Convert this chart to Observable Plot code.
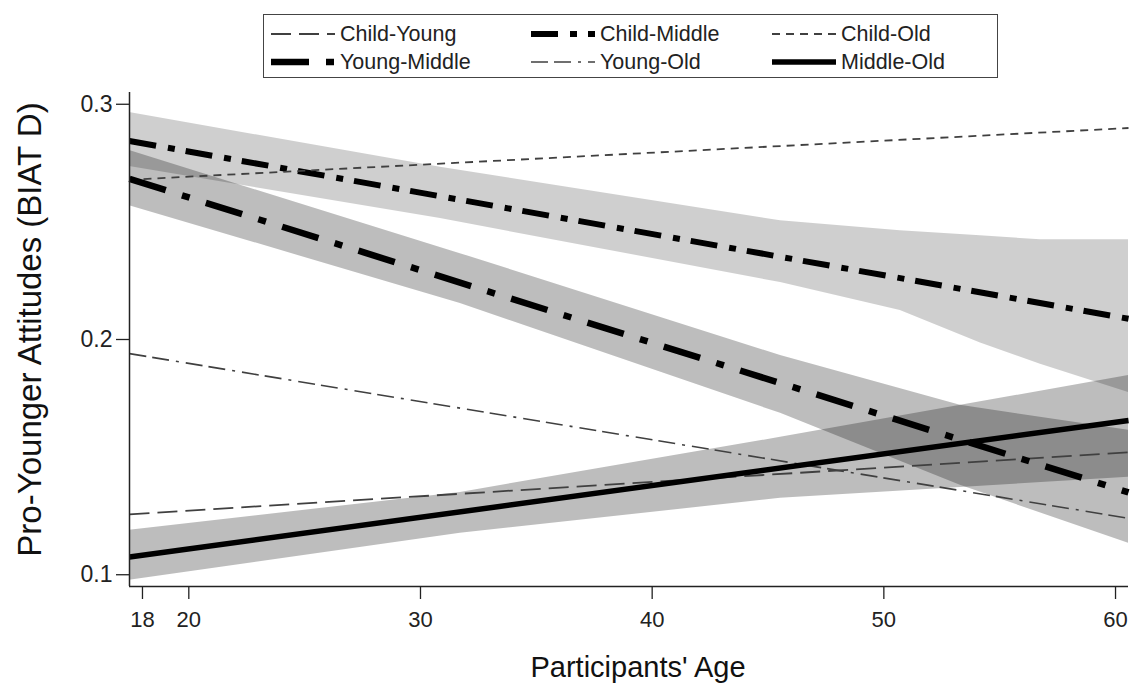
<!DOCTYPE html>
<html><head><meta charset="utf-8">
<script src="https://cdn.jsdelivr.net/npm/d3@7"></script>
<script src="https://cdn.jsdelivr.net/npm/@observablehq/plot@0.6"></script>
<style>
body{margin:0;background:#fff;font-family:"Liberation Sans",Arial,sans-serif;}
#wrap{position:relative;width:1133px;height:687px;overflow:hidden;}
#chart{position:absolute;left:0;top:0;}
#legend{position:absolute;left:263px;top:14px;width:735px;height:64px;border:1.5px solid #444;box-sizing:border-box;background:#fff;z-index:2;}
.item{position:absolute;display:flex;align-items:center;font-size:21.5px;color:#222;white-space:nowrap;height:26px;}
.item svg{margin-right:5px;}
</style></head><body>
<div id="wrap"><div id="chart"></div><div id="legend"></div></div>
<script>
// ---- data ----
const series = ["Child-Young", "Child-Middle", "Child-Old", "Young-Middle", "Young-Old", "Middle-Old"];
const ageRange = [17.44, 60.56];
const startValues = [0.1257, 0.2844, 0.2679, 0.2683, 0.1940, 0.1075];
const endValues   = [0.1520, 0.2088, 0.2899, 0.1350, 0.1240, 0.1656];

const cmBandAges = [17.44, 30.86, 45.54, 50.71, 54.17, 56.76, 60.56];
const cmBandLow  = [0.2735, 0.2514, 0.2242, 0.2123, 0.1985, 0.1895, 0.1775];
const cmBandHigh = [0.2965, 0.2732, 0.2505, 0.2462, 0.2441, 0.2424, 0.2424];

const ymBandAges = [17.44, 31.72, 45.54, 53.3, 60.56];
const ymBandLow  = [0.2569, 0.2153, 0.1686, 0.1380, 0.1134];
const ymBandHigh = [0.2803, 0.2365, 0.1932, 0.1720, 0.1614];

const moBandAges = [17.44, 31.72, 45.54, 60.56];
const moBandLow  = [0.0977, 0.1176, 0.1325, 0.1414];
const moBandHigh = [0.1189, 0.1350, 0.1584, 0.1847];

const yDomain = [0.095, 0.305];
const xTicks = [18, 20, 30, 40, 50, 60];
const yTicks = [0.1, 0.2, 0.3];
const xTitle = "Participants' Age";
const yTitle = "Pro-Younger Attitudes (BIAT D)";

// ---- styles ----
const styles = {
  "Child-Young":  {stroke: "#404040", width: 1.8, dash: "20,8"},
  "Child-Middle": {stroke: "#000", width: 6, dash: "27,12,7,11"},
  "Child-Old":    {stroke: "#404040", width: 1.8, dash: "8,6"},
  "Young-Middle": {stroke: "#000", width: 6.5, dash: "38,17,8,17"},
  "Young-Old":    {stroke: "#404040", width: 1.6, dash: "17,6,17,7,3,7"},
  "Middle-Old":   {stroke: "#000", width: 5.5, dash: null}
};

const lineData = series.flatMap((s, i) => [
  {series: s, age: ageRange[0], value: startValues[i]},
  {series: s, age: ageRange[1], value: endValues[i]}
]);
const band = (ages, lo, hi) => ages.map((a, i) => ({age: a, lo: lo[i], hi: hi[i]}));

const lineMarks = series.map(s => Plot.line(lineData.filter(d => d.series === s), {
  x: "age", y: "value", stroke: styles[s].stroke, strokeWidth: styles[s].width,
  strokeDasharray: styles[s].dash, strokeLinecap: "butt"
}));

const chart = Plot.plot({
  width: 1133, height: 687,
  marginLeft: 129, marginRight: 5, marginTop: 92, marginBottom: 101,
  x: {domain: ageRange},
  y: {domain: yDomain},
  style: {fontFamily: "'Liberation Sans', Arial, sans-serif", fontSize: "20px", color: "#222", background: "white"},
  marks: [
    Plot.areaY(band(cmBandAges, cmBandLow, cmBandHigh), {x: "age", y1: "lo", y2: "hi", fill: "#000", fillOpacity: 0.19}),
    Plot.areaY(band(ymBandAges, ymBandLow, ymBandHigh), {x: "age", y1: "lo", y2: "hi", fill: "#000", fillOpacity: 0.26}),
    Plot.areaY(band(moBandAges, moBandLow, moBandHigh), {x: "age", y1: "lo", y2: "hi", fill: "#000", fillOpacity: 0.26}),
    ...lineMarks,
    Plot.ruleX([ageRange[0]], {stroke: "#222", strokeWidth: 1.5}),
    Plot.ruleY([yDomain[0]], {stroke: "#222", strokeWidth: 1.5}),
    Plot.axisY({ticks: yTicks, tickSize: 13, tickPadding: 4, tickFormat: d => d.toFixed(1), label: null, fontSize: 23, strokeWidth: 1.3}),
    Plot.axisX({ticks: xTicks, tickSize: 13, tickPadding: 12, label: null, fontSize: 22, strokeWidth: 1.3}),
    Plot.text([yTitle], {frameAnchor: "left", textAnchor: "middle", lineAnchor: "middle", rotate: -90, dx: -99, dy: -10, fontSize: 33, fill: "#111"}),
    Plot.text([xTitle], {frameAnchor: "bottom", textAnchor: "middle", lineAnchor: "middle", dx: 9, dy: 81, fontSize: 29, fill: "#111"})
  ]
});
document.getElementById("chart").appendChild(chart);

// ---- legend ----
const legendPos = [
  {x: 7, y: 6}, {x: 267, y: 6}, {x: 508, y: 6},
  {x: 7, y: 34}, {x: 267, y: 34}, {x: 508, y: 34}
];
const legend = document.getElementById("legend");
series.forEach((s, i) => {
  const st = styles[s];
  const div = document.createElement("div");
  div.className = "item";
  div.style.left = legendPos[i].x + "px";
  div.style.top = legendPos[i].y + "px";
  div.innerHTML = `<svg width="64" height="12"><line x1="0" x2="64" y1="6" y2="6" stroke="${st.stroke}" stroke-width="${st.width}" ${st.dash ? `stroke-dasharray="${st.dash}"` : ""}/></svg><span>${s}</span>`;
  legend.appendChild(div);
});
</script>
</body></html>
